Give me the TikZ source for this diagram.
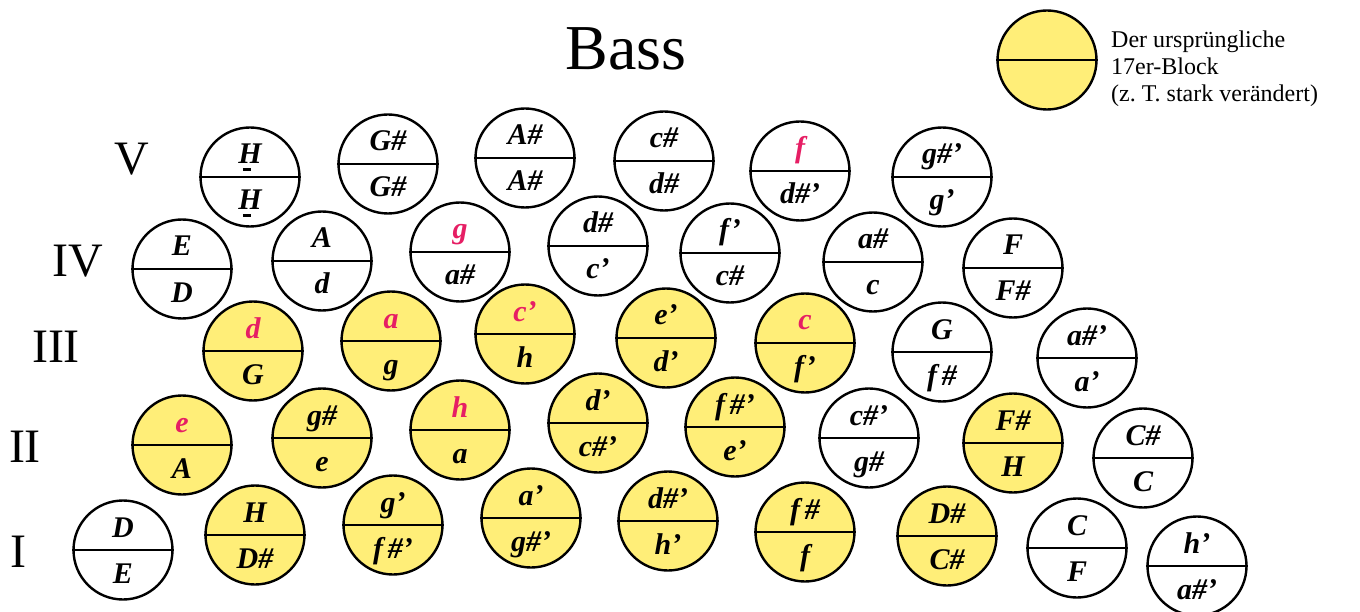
\documentclass[tikz,border=0pt]{standalone}
\usepackage{fontspec}
\setmainfont{Liberation Serif}
\definecolor{gelb}{RGB}{255,238,120}
\definecolor{rot}{RGB}{230,30,100}
\newcommand\rot[1]{\textcolor{rot}{#1}}
\newcommand\Hs{\makebox[0pt][l]{\hspace{0.15em}\rule[-0.24em]{0.28em}{0.09em}}H}

\begin{document}
\begin{tikzpicture}[x=1pt, y=-1pt,
  knopf/.style={
    circle, draw=black, fill=#1, line width=2.4pt,
    minimum size=99pt, inner sep=0pt
  },
  trenn/.style={line width=2.4pt},
  ton/.style={
    font=\fontsize{30}{31}\selectfont\bfseries\itshape,
    anchor=base, inner sep=0pt
  },
  reihe/.style={
    font=\fontsize{48}{50}\selectfont, anchor=base, inner sep=0pt
  }
]
\useasboundingbox (0,0) rectangle (1360,612);

% Title and row numbers
\node[anchor=base, inner sep=0pt, font=\fontsize{64}{66}\selectfont] (titel) at (626,70) {Bass};
\node[reihe] (rV)   at (132,175) {V};
\node[reihe] (rIV)  at (78,277)  {IV};
\node[reihe] (rIII) at (56,362)  {III};
\node[reihe] (rII)  at (25,462)  {II};
\node[reihe] (rI)   at (18,567)  {I};

% Buttons: name/x/y/fill/top/bottom
\foreach \n/\x/\y/\f/\o/\u in {
  V1/250/177/white/\Hs/\Hs, V2/388/164/white/G\#/G\#,
  V3/525/158/white/A\#/A\#, V4/664/161/white/c\#/d\#,
  V5/800/171/white/\rot{f}/d\#’, V6/942/177/white/g\#’/g’,
  IV1/182/269/white/E/D, IV2/322/261/white/A/d,
  IV3/460/252/white/\rot{g}/a\#, IV4/598/246/white/d\#/c’,
  IV5/730/253/white/f’/c\#, IV6/873/262/white/a\#/c,
  IV7/1013/268/white/F/F\#,
  III1/253/351/gelb/\rot{d}/G, III2/391/341/gelb/\rot{a}/g,
  III3/525/334/gelb/\rot{c’}/h, III4/666/338/gelb/e’/d’,
  III5/805/343/gelb/\rot{c}/f’, III6/942/352/white/G/f\,\#,
  III7/1087/358/white/a\#’/a’,
  II1/182/445/gelb/\rot{e}/A, II2/322/438/gelb/g\#/e,
  II3/460/430/gelb/\rot{h}/a, II4/598/423/gelb/d’/c\#’,
  II5/735/427/gelb/f\,\#’/e’, II6/869/438/white/c\#’/g\#,
  II7/1013/443/gelb/F\#/H, II8/1143/458/white/C\#/C,
  I1/123/550/white/D/E, I2/255/535/gelb/H/D\#,
  I3/393/525/gelb/g’/f\,\#’, I4/531/518/gelb/a’/g\#’,
  I5/668/521/gelb/d\#’/h’, I6/805/532/gelb/f\,\#/f,
  I7/947/536/gelb/D\#/C\#, I8/1077/548/white/C/F,
  I9/1197/566/white/h’/a\#’}
{
  \node[knopf=\f] (\n) at (\x,\y) {};
  \draw[trenn] (\n.west) -- (\n.east);
  \node[ton] (\n-o) at ([yshift=13pt]\n.center) {\o};
  \node[ton] (\n-u) at ([yshift=-33pt]\n.center) {\u};
}

% Legend
\node[knopf=gelb] (leg) at (1047,60) {};
\draw[trenn] (leg.west) -- (leg.east);
\node[anchor=base west, align=left, inner sep=0pt,
  font=\fontsize{24}{27}\selectfont] (legtext) at (1111,102)
  {Der ursprüngliche\\17er-Block\\(z.~T. stark verändert)};

\end{tikzpicture}
\end{document}
